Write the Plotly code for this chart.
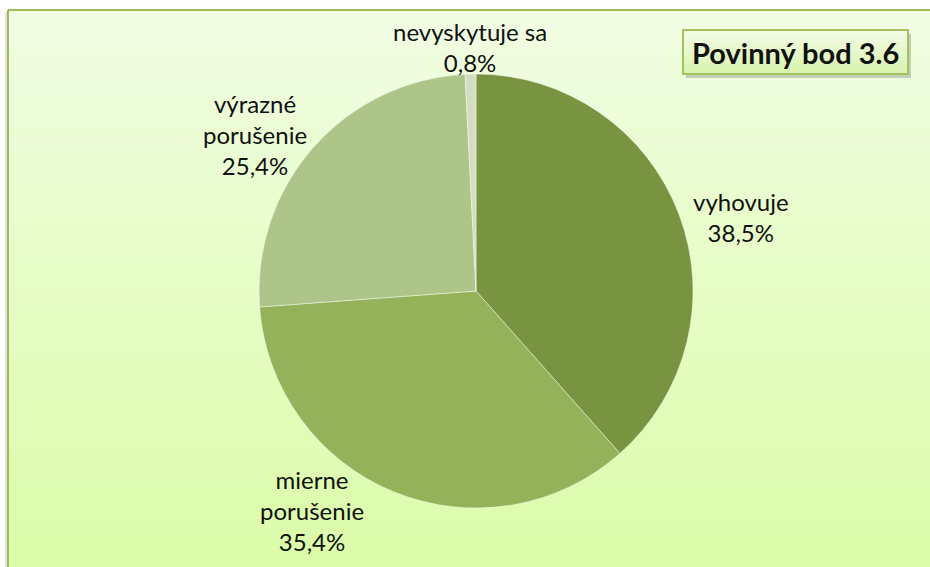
import math
import plotly.graph_objects as go

# Data
categories = ["vyhovuje", "mierne<br>porušenie", "výrazné<br>porušenie", "nevyskytuje sa"]
shares = [38.5, 35.4, 25.4, 0.8]
slice_colors = ["#789440", "#93B25A", "#AEC589", "#D3DEC0"]
title_text = "Povinný bod 3.6"

W, H = 930, 567
CX, CY, R = 476, 291, 217          # pie centre and radius in pixels
FONT = "Lato"

fig = go.Figure()

fig.add_trace(go.Pie(
    values=shares,
    labels=[c.replace("<br>", " ") for c in categories],
    sort=False,
    direction="clockwise",
    rotation=0,
    textinfo="none",
    hoverinfo="label+percent",
    marker=dict(colors=slice_colors, line=dict(color="rgba(255,255,255,0.55)", width=0.8)),
    domain=dict(x=[(CX - R) / W, (CX + R) / W],
                y=[1 - (CY + R) / H, 1 - (CY - R) / H]),
    showlegend=False,
))

# Background: vertical gradient inside the chart frame
shapes = []
FRAME_L, FRAME_T = 8, 10
top_rgb = (0xF1, 0xFD, 0xE3)
bot_rgb = (0xDB, 0xFC, 0xA8)
n_strips = 80
y_top = 1 - FRAME_T / H
for i in range(n_strips):
    t = i / (n_strips - 1)
    c = tuple(round(a + (b - a) * t) for a, b in zip(top_rgb, bot_rgb))
    y1 = y_top - i * y_top / n_strips
    y0 = y_top - (i + 1) * y_top / n_strips
    shapes.append(dict(type="rect", xref="paper", yref="paper",
                       x0=FRAME_L / W, x1=1.0, y0=y0 - 0.001, y1=y1,
                       fillcolor="rgb(%d,%d,%d)" % c, line=dict(width=0), layer="below"))

# Frame shadow and border (left and top edges)
shapes.append(dict(type="line", xref="paper", yref="paper",
                   x0=(FRAME_L - 2) / W, x1=(FRAME_L - 2) / W, y0=0, y1=1 - (FRAME_T + 2) / H,
                   line=dict(color="rgba(0,0,0,0.12)", width=2), layer="below"))
shapes.append(dict(type="line", xref="paper", yref="paper",
                   x0=FRAME_L / W, x1=FRAME_L / W, y0=0, y1=1 - FRAME_T / H,
                   line=dict(color="#9BBB59", width=2), layer="below"))
shapes.append(dict(type="line", xref="paper", yref="paper",
                   x0=FRAME_L / W, x1=1.0, y0=1 - FRAME_T / H, y1=1 - FRAME_T / H,
                   line=dict(color="#9BBB59", width=2), layer="below"))

# Title box shadow
BX0, BX1, BY0, BY1 = 683, 908, 30, 74
shapes.append(dict(type="rect", xref="paper", yref="paper",
                   x0=(BX0 + 3) / W, x1=(BX1 + 3) / W, y0=1 - (BY1 + 4) / H, y1=1 - (BY0 + 4) / H,
                   fillcolor="rgba(0,0,0,0.18)", line=dict(width=0), layer="below"))
# Title box with gradient fill
box_top = (0xF3, 0xFD, 0xE6)
box_bot = (0xD9, 0xF3, 0xAE)
nb = 20
for i in range(nb):
    t = i / (nb - 1)
    c = tuple(round(a + (b - a) * t) for a, b in zip(box_top, box_bot))
    ya = BY0 + (BY1 - BY0) * i / nb
    yb = BY0 + (BY1 - BY0) * (i + 1) / nb
    shapes.append(dict(type="rect", xref="paper", yref="paper",
                       x0=BX0 / W, x1=BX1 / W, y0=1 - (yb + 0.5) / H, y1=1 - ya / H,
                       fillcolor="rgb(%d,%d,%d)" % c, line=dict(width=0), layer="below"))
shapes.append(dict(type="rect", xref="paper", yref="paper",
                   x0=BX0 / W, x1=BX1 / W, y0=1 - BY1 / H, y1=1 - BY0 / H,
                   fillcolor="rgba(0,0,0,0)", line=dict(color="#A2C25F", width=2), layer="below"))

annotations = [dict(
    text="<b>" + title_text + "</b>", xref="paper", yref="paper",
    x=((BX0 + BX1) / 2) / W, y=1 - ((BY0 + BY1) / 2) / H,
    xanchor="center", yanchor="middle", showarrow=False,
    font=dict(family=FONT, size=29, color="#111111"),
)]

# Data labels: placed around each slice's mid-angle on the rim, nudged outward
label_nudge = [(62, 3), (-82, 18), (-58, -13), (-1, -27)]
total = sum(shares)
cum = 0.0
for cat, v, (dx, dy) in zip(categories, shares, label_nudge):
    mid = (cum + v / 2) / total * 2 * math.pi
    cum += v
    px = CX + R * math.sin(mid) + dx
    py = CY - R * math.cos(mid) + dy
    pct = ("%.1f" % v).replace(".", ",") + "%"
    annotations.append(dict(
        text=cat + "<br>" + pct, xref="paper", yref="paper",
        x=px / W, y=1 - py / H, xanchor="center", yanchor="middle",
        showarrow=False, align="center",
        font=dict(family=FONT, size=24, color="#111111"),
    ))

fig.update_layout(
    width=W, height=H,
    margin=dict(l=0, r=0, t=0, b=0),
    paper_bgcolor="white",
    plot_bgcolor="white",
    shapes=shapes,
    annotations=annotations,
)

fig.write_html("out.html")
